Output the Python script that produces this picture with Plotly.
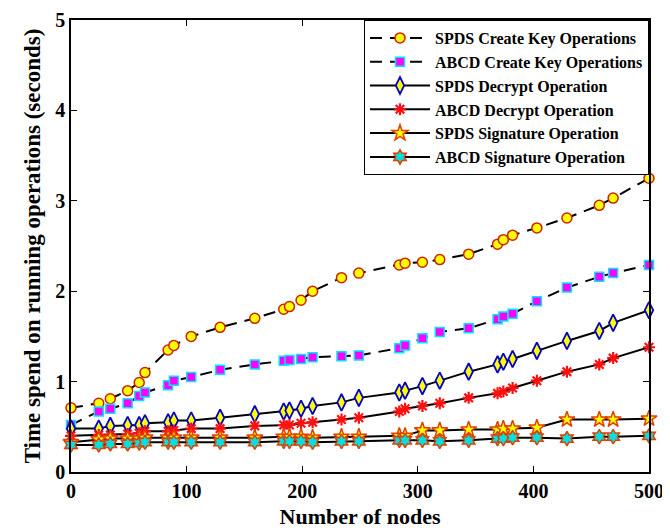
import plotly.graph_objects as go

nodes = [0, 24, 34, 49, 59, 64, 84, 89, 104, 129, 159, 184, 189, 199, 209, 234, 249,
         284, 289, 304, 319, 344, 369, 374, 382, 403, 429, 457, 469, 500]

spds_create = [0.71, 0.76, 0.81, 0.90, 0.99, 1.10, 1.35, 1.40, 1.50, 1.60, 1.70, 1.80, 1.83,
               1.90, 2.00, 2.15, 2.20, 2.29, 2.31, 2.32, 2.35, 2.41, 2.52, 2.57, 2.62, 2.70,
               2.81, 2.95, 3.03, 3.25]
abcd_create = [0.52, 0.67, 0.70, 0.76, 0.84, 0.88, 0.96, 1.01, 1.05, 1.13, 1.19, 1.23, 1.24,
               1.25, 1.27, 1.28, 1.29, 1.37, 1.40, 1.48, 1.55, 1.59, 1.69, 1.72, 1.75, 1.89,
               2.04, 2.16, 2.20, 2.29]
spds_decrypt = [0.48, 0.48, 0.51, 0.52, 0.52, 0.54, 0.55, 0.57, 0.57, 0.60, 0.64, 0.67, 0.68,
                0.70, 0.73, 0.77, 0.82, 0.88, 0.90, 0.95, 1.01, 1.11, 1.19, 1.22, 1.25, 1.34,
                1.45, 1.56, 1.65, 1.79]
abcd_decrypt = [0.40, 0.41, 0.41, 0.42, 0.43, 0.45, 0.45, 0.46, 0.48, 0.48, 0.51, 0.52, 0.52,
                0.54, 0.55, 0.58, 0.60, 0.67, 0.70, 0.73, 0.76, 0.82, 0.87, 0.89, 0.93, 1.01,
                1.11, 1.19, 1.26, 1.38]
spds_sign = [0.33, 0.36, 0.37, 0.37, 0.37, 0.38, 0.38, 0.38, 0.38, 0.38, 0.38, 0.39, 0.39,
             0.39, 0.38, 0.39, 0.39, 0.40, 0.40, 0.46, 0.46, 0.47, 0.47, 0.48, 0.48, 0.49,
             0.58, 0.58, 0.58, 0.59]
abcd_sign = [0.30, 0.30, 0.31, 0.31, 0.32, 0.33, 0.33, 0.33, 0.33, 0.33, 0.33, 0.34, 0.34,
             0.34, 0.33, 0.34, 0.34, 0.35, 0.35, 0.35, 0.34, 0.35, 0.37, 0.37, 0.38, 0.38,
             0.37, 0.39, 0.39, 0.40]

names = ["SPDS Create Key Operations", "ABCD Create Key Operations", "SPDS Decrypt Operation",
         "ABCD Decrypt Operation", "SPDS Signature Operation", "ABCD Signature Operation"]
series = [spds_create, abcd_create, spds_decrypt, abcd_decrypt, spds_sign, abcd_sign]

styles = [
    dict(dash="12px,8px", symbol="circle", size=10, fill="#ffff00", edge="#cc2200", ew=1.5),
    dict(dash="12px,8px", symbol="square", size=9, fill="#ff00ff", edge="#00e5ff", ew=1.5),
    dict(dash="solid", symbol="diamond-tall", size=12, fill="#ffff00", edge="#0000cc", ew=1.8),
    dict(dash="solid", symbol="asterisk", size=10, fill="#ff0000", edge="#ff1010", ew=2.2),
    dict(dash="solid", symbol="star", size=12, fill="#ffff00", edge="#e04000", ew=1.5),
    dict(dash="solid", symbol="hexagram", size=11, fill="#00e0e0", edge="#e04000", ew=1.5),
]

fig = go.Figure()
for name, ys, st in zip(names, series, styles):
    fig.add_trace(go.Scatter(
        x=nodes, y=ys, name=name, mode="lines+markers", cliponaxis=False,
        line=dict(color="black", width=2, dash=st["dash"]),
        marker=dict(symbol=st["symbol"], size=st["size"], color=st["fill"],
                    line=dict(color=st["edge"], width=st["ew"])),
    ))

font_family = "Liberation Serif, Times New Roman, serif"
fig.update_layout(
    width=670, height=530,
    margin=dict(l=63, r=29, t=12, b=66, autoexpand=False),
    paper_bgcolor="white", plot_bgcolor="white",
    font=dict(family=font_family, color="black", size=18),
    showlegend=True,
    legend=dict(
        x=1, y=1, xanchor="right", yanchor="top",
        bgcolor="white", bordercolor="black", borderwidth=1,
        font=dict(family=font_family, size=16, color="black", weight="bold"),
        tracegroupgap=0, itemwidth=60,
    ),
    xaxis=dict(
        range=[0, 500], tickvals=[0, 100, 200, 300, 400, 500], automargin=False,
        showgrid=False, zeroline=False, showline=True, linecolor="black", linewidth=1.5,
        mirror="ticks", ticks="inside", ticklen=6, tickcolor="black",
        tickfont=dict(size=20, weight="bold"),
        title=dict(text="Number of nodes", font=dict(size=22, weight="bold"), standoff=8),
    ),
    yaxis=dict(
        range=[0, 5], tickvals=[0, 1, 2, 3, 4, 5], automargin=False,
        showgrid=False, zeroline=False, showline=True, linecolor="black", linewidth=1.5,
        mirror="ticks", ticks="inside", ticklen=6, tickcolor="black",
        tickfont=dict(size=20, weight="bold"),
        title=dict(text="Time spend on running operations (seconds)",
                   font=dict(size=23, weight="bold"), standoff=8),
    ),
)

fig.write_html("out.html")
